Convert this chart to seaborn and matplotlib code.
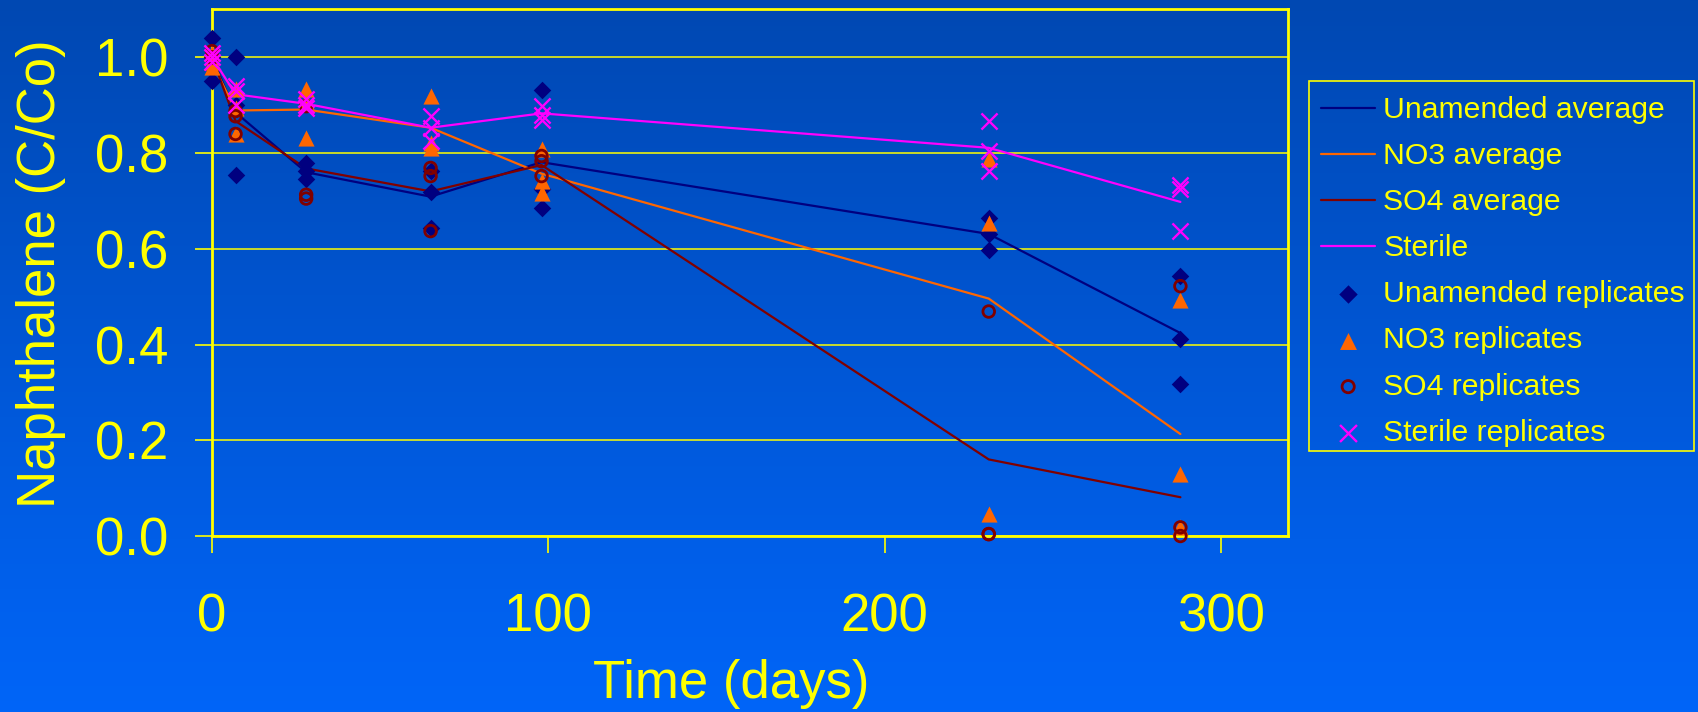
import numpy as np
import pandas as pd
import matplotlib
matplotlib.use("Agg")
import matplotlib.pyplot as plt
from matplotlib.patches import Rectangle
import seaborn as sns

# ---------------- data ----------------
days = [0, 7, 28, 65, 98, 231, 288]

unamended_avg = [1.00, 0.885, 0.760, 0.709, 0.781, 0.631, 0.424]
no3_avg = [0.99, 0.889, 0.891, 0.853, 0.757, 0.496, 0.213]
so4_avg = [1.00, 0.867, 0.768, 0.720, 0.775, 0.160, 0.081]
sterile_avg = [1.00, 0.923, 0.903, 0.853, 0.883, 0.811, 0.698]

unamended_reps = [[1.04, 0.95, 1.00], [1.00, 0.755, 0.90], [0.78, 0.762, 0.745],
                  [0.762, 0.718, 0.644], [0.932, 0.686, 0.725], [0.665, 0.630, 0.598],
                  [0.543, 0.411, 0.318]]
no3_reps = [[1.01, 0.99, 0.98], [0.933, 0.839, 0.895], [0.933, 0.832, 0.908],
            [0.919, 0.821, 0.811], [0.808, 0.741, 0.717], [0.787, 0.654, 0.047],
            [0.494, 0.129, 0.019]]
so4_reps = [[1.013, 0.999, 1.00], [0.888, 0.877, 0.84], [0.898, 0.713, 0.705],
            [0.769, 0.752, 0.637], [0.794, 0.783, 0.752], [0.469, 0.004, 0.004],
            [0.522, 0.018, 0.0]]
sterile_reps = [[1.00, 1.01, 0.99], [0.94, 0.93, 0.90], [0.913, 0.90, 0.895],
                [0.877, 0.853, 0.825], [0.898, 0.88, 0.869], [0.867, 0.804, 0.762],
                [0.734, 0.724, 0.637]]

x_ticks = [0, 100, 200, 300]
y_ticks = [0.0, 0.2, 0.4, 0.6, 0.8, 1.0]

# ---------------- style ----------------
NAVY = "#000080"
ORANGE = "#FF6600"
DRED = "#800000"
MAG = "#FF00FF"
YEL = "#FFFF00"

sns.set_theme(style="white")
plt.rcParams["font.family"] = ["Liberation Sans", "DejaVu Sans"]

W, H = 1698, 712
fig = plt.figure(figsize=(W / 100, H / 100), dpi=100)

# gradient background
bg = fig.add_axes([0, 0, 1, 1], zorder=-10)
t = np.linspace(0, 1, 256).reshape(-1, 1, 1)
top = np.array([0, 72, 178]) / 255
bot = np.array([0, 101, 248]) / 255
img = top + (bot - top) * t
bg.imshow(img, aspect="auto", extent=[0, 1, 0, 1], origin="upper")
bg.axis("off")

ax = fig.add_axes([212 / W, 1 - 536 / H, 1076 / W, 526.5 / H])
ax.set_facecolor("none")


def long(reps):
    return pd.DataFrame({"day": np.repeat(days, 3),
                         "val": np.array(reps).ravel()})


# average lines
for vals, col, lab in [(unamended_avg, NAVY, "Unamended average"),
                       (no3_avg, ORANGE, "NO3 average"),
                       (so4_avg, DRED, "SO4 average"),
                       (sterile_avg, MAG, "Sterile")]:
    sns.lineplot(x=days, y=vals, color=col, lw=1.6, ax=ax, label=lab,
                 estimator=None, sort=False, zorder=3)

# replicates
sns.scatterplot(data=long(unamended_reps), x="day", y="val", marker="D", s=80,
                color=NAVY, edgecolor=NAVY, linewidth=0, ax=ax,
                label="Unamended replicates", clip_on=False, zorder=4)
sns.scatterplot(data=long(no3_reps), x="day", y="val", marker="^", s=135,
                color=ORANGE, edgecolor=ORANGE, linewidth=0, ax=ax,
                label="NO3 replicates", clip_on=False, zorder=4)
sns.scatterplot(data=long(so4_reps), x="day", y="val", marker="o", s=70,
                color=DRED, facecolor="none", edgecolor=DRED, linewidth=2.0,
                ax=ax, label="SO4 replicates", clip_on=False, zorder=4)
sns.scatterplot(data=long(sterile_reps), x="day", y="val", marker="x", s=135,
                color=MAG, linewidth=1.7, ax=ax,
                label="Sterile replicates", clip_on=False, zorder=4)

ax.set_xlim(0, 320)
ax.set_ylim(0, 1.1)
ax.set_xticks(x_ticks)
ax.set_xticklabels([str(v) for v in x_ticks])
ax.set_yticks(y_ticks)
ax.set_yticklabels([f"{v:.1f}" for v in y_ticks])

ax.grid(axis="y", color=YEL, lw=1.1)
ax.grid(axis="x", visible=False)
ax.set_axisbelow(True)
for sp in ax.spines.values():
    sp.set_color(YEL)
    sp.set_linewidth(2)
    sp.set_visible(True)

ax.tick_params(axis="both", colors=YEL, labelsize=38, direction="out",
               width=1.2, length=12.5, labelcolor=YEL)
ax.tick_params(axis="x", pad=28, bottom=True)
ax.tick_params(axis="y", pad=19, left=True)

ax.set_xlabel("Time (days)", fontsize=38, color=YEL)
ax.set_ylabel("Naphthalene (C/Co)", fontsize=38, color=YEL)
ax.xaxis.set_label_coords(0.4823, -0.234)
ax.yaxis.set_label_coords(-0.1357, 0.4976)

handles, labels = ax.get_legend_handles_labels()
leg = ax.legend(handles, labels, loc="upper left",
                bbox_to_anchor=(1309 / W, 1 - 84 / H),
                bbox_transform=fig.transFigure, frameon=False,
                fontsize=21.7, labelcolor=YEL, handlelength=1.8,
                handletextpad=0.27, labelspacing=0.6, borderpad=0.4,
                borderaxespad=0, markerscale=1.05)

# legend box drawn at its measured place
fig.patches.append(Rectangle((1309 / W, 1 - 451 / H), 385 / W, 370 / H,
                             transform=fig.transFigure, fill=False,
                             edgecolor=YEL, linewidth=1.2, zorder=5))

fig.savefig("out.png", dpi=100)
